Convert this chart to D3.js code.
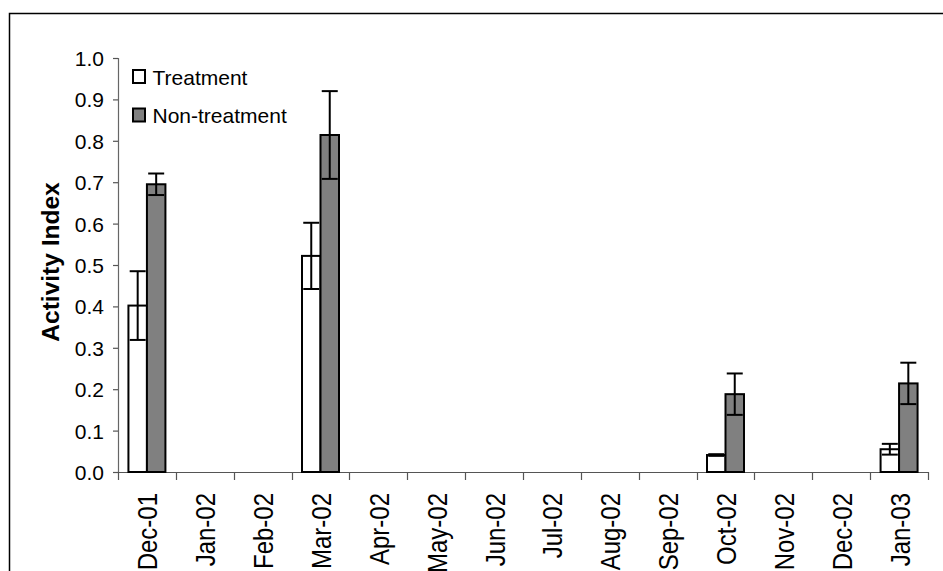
<!DOCTYPE html>
<html><head><meta charset="utf-8">
<script src="https://cdn.jsdelivr.net/npm/d3@7"></script>
<style>body{margin:0;background:#fff}svg{display:block}text{font-family:"Liberation Sans",Arial,sans-serif}</style>
</head><body>
<svg id="c" width="943" height="571"></svg>
<script>
const categories = ["Dec-01","Jan-02","Feb-02","Mar-02","Apr-02","May-02","Jun-02","Jul-02","Aug-02","Sep-02","Oct-02","Nov-02","Dec-02","Jan-03"];
const seriesNames = ["Treatment","Non-treatment"];
const treatment = [0.402,null,null,0.522,null,null,null,null,null,null,0.041,null,null,0.055];
const treatmentErr = [0.083,null,null,0.080,null,null,null,null,null,null,0.002,null,null,0.013];
const nonTreatment = [0.695,null,null,0.814,null,null,null,null,null,null,0.188,null,null,0.214];
const nonTreatmentErr = [0.026,null,null,0.106,null,null,null,null,null,null,0.050,null,null,0.050];
const yTicks = [0,0.1,0.2,0.3,0.4,0.5,0.6,0.7,0.8,0.9,1.0];
const colors = ["#ffffff","#808080"];

(function(){
const svg = d3.select("#c");
svg.append("rect").attr("x",9.5).attr("y",13.5).attr("width",1000).attr("height",1000)
  .attr("fill","#fff").attr("stroke","#000").attr("stroke-width",1.5);

const pL=118, pR=928, pT=58, pB=472;
const x = d3.scaleBand().domain(categories).range([pL,pR]).padding(0);
const x1 = d3.scaleBand().domain(seriesNames).range([0,x.bandwidth()]).paddingInner(0).paddingOuter(0.564);
const y = d3.scaleLinear().domain([0,1]).range([pB,pT]);

// y axis
const ya = svg.append("g").attr("transform",`translate(${pL},0)`)
  .call(d3.axisLeft(y).tickValues(yTicks).tickFormat(d3.format(".1f")).tickSize(5).tickPadding(9));
ya.select(".domain").attr("stroke","#666").attr("stroke-width",1.2);
ya.selectAll(".tick line").attr("stroke","#555").attr("stroke-width",1.2);
ya.selectAll(".tick text").attr("font-size",21).attr("fill","#000").attr("dy","0.36em")
  .style("font-family","'Liberation Sans',Arial,sans-serif");

// x axis baseline & ticks at boundaries
const xa = svg.append("g");
xa.append("line").attr("x1",pL).attr("x2",pR).attr("y1",pB+0.5).attr("y2",pB+0.5).attr("stroke","#555").attr("stroke-width",1.2);
const bounds = categories.map(c=>x(c)).concat([pR]);
xa.selectAll("line.t").data(bounds).enter().append("line").attr("class","t")
  .attr("x1",d=>Math.round(d)+0.5).attr("x2",d=>Math.round(d)+0.5).attr("y1",pB).attr("y2",pB+8)
  .attr("stroke","#555").attr("stroke-width",1.2);
xa.selectAll("text").data(categories).enter().append("text")
  .attr("transform",c=>`translate(${x(c)+x.bandwidth()/2+10.5},${pB+21}) rotate(-90) scale(1,1.12)`)
  .attr("text-anchor","end").attr("font-size",24).attr("fill","#000").text(c=>c);

// bars
const series = [
  {name:seriesNames[0], vals:treatment, errs:treatmentErr, color:colors[0]},
  {name:seriesNames[1], vals:nonTreatment, errs:nonTreatmentErr, color:colors[1]}
];
const g = svg.append("g");
series.forEach(s=>{
  categories.forEach((c,i)=>{
    const v = s.vals[i];
    if(v==null) return;
    const bx = x(c)+x1(s.name);
    g.append("rect").attr("x",bx).attr("y",y(v)).attr("width",x1.bandwidth()).attr("height",y(0)-y(v))
      .attr("fill",s.color).attr("stroke","#000").attr("stroke-width",2);
  });
});
series.forEach(s=>{
  categories.forEach((c,i)=>{
    const v = s.vals[i], e = s.errs[i];
    if(v==null) return;
    const cx = x(c)+x1(s.name)+x1.bandwidth()/2;
    const hi = y(v+e), lo = y(v-e), cw = 8;
    g.append("line").attr("x1",cx).attr("x2",cx).attr("y1",hi).attr("y2",lo).attr("stroke","#000").attr("stroke-width",2);
    [hi,lo].forEach(yy=>g.append("line").attr("x1",cx-cw).attr("x2",cx+cw).attr("y1",yy).attr("y2",yy).attr("stroke","#000").attr("stroke-width",2));
  });
});

// y label
svg.append("text").attr("transform","translate(59,262) rotate(-90)").attr("text-anchor","middle")
  .attr("font-size",24.5).attr("font-weight","bold").attr("fill","#000").text("Activity Index");

// legend
const lg = svg.append("g");
seriesNames.forEach((n,i)=>{
  const yy = 76 + i*38.5;
  lg.append("rect").attr("x",133).attr("y",yy-6).attr("width",12).attr("height",13)
    .attr("fill",colors[i]).attr("stroke","#000").attr("stroke-width",2);
  lg.append("text").attr("x",152.5).attr("y",yy+8.5).attr("font-size",21).attr("fill","#000").text(n);
});
})();
</script>
</body></html>
